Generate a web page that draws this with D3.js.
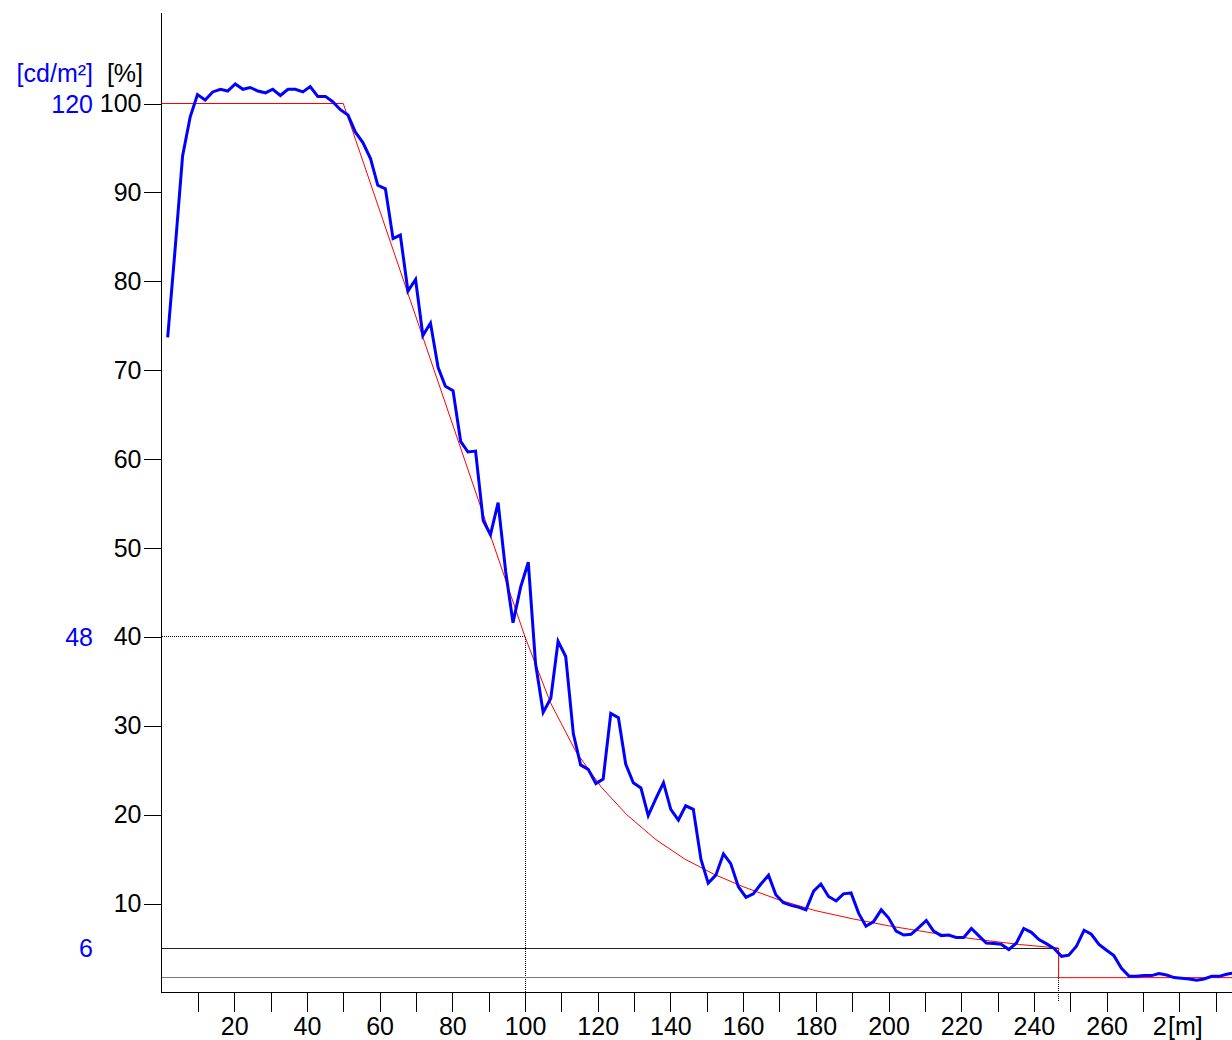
<!DOCTYPE html>
<html>
<head>
<meta charset="utf-8">
<script src="https://cdn.jsdelivr.net/npm/d3@7"></script>
<style>
  html, body { margin: 0; padding: 0; background: #fff; }
  svg { display: block; }
  text { font-family: "Liberation Sans", Arial, sans-serif; }
</style>
</head>
<body>
<svg id="chart" width="1232" height="1040"></svg>
<script>
// ---- data ----
const distance = [1.7,3.8,5.8,7.9,9.9,12.0,14.1,16.2,18.2,20.3,22.4,24.4,26.5,28.6,30.6,32.7,34.8,36.8,38.9,40.9,
  43.0,45.1,47.1,49.2,51.3,53.3,55.4,57.5,59.5,61.6,63.7,65.7,67.8,69.9,71.9,74.0,76.1,78.1,80.2,82.3,
  84.3,86.4,88.5,90.5,92.6,94.7,96.7,98.8,100.9,102.9,105.0,107.1,109.1,111.2,113.3,115.3,117.4,119.5,121.5,123.6,
  125.7,127.7,129.8,131.9,133.9,136.0,138.1,140.1,142.2,144.2,146.3,148.4,150.4,152.5,154.6,156.6,158.7,160.8,162.8,164.9,
  167.0,169.0,171.1,173.2,175.2,177.3,179.4,181.4,183.5,185.6,187.6,189.7,191.8,193.8,195.9,198.0,200.0,202.1,204.2,206.2,
  208.3,210.4,212.4,214.5,216.6,218.6,220.7,222.8,224.8,226.9,229.0,231.0,233.1,235.2,237.2,239.3,241.4,243.4,245.5,247.6,
  249.6,251.7,253.8,255.8,257.9,260.0,262.0,264.1,266.2,268.2,270.3,272.4,274.4,276.5,278.6,280.6,282.7,284.8,286.8,288.9,
  291.0,293.0,295.1];
const measured = [73.7,83.9,94.1,98.5,101.0,100.4,101.3,101.6,101.4,102.2,101.6,101.8,101.4,101.2,101.6,100.9,101.6,101.6,101.3,101.9,
  100.8,100.8,100.2,99.3,98.7,96.8,95.6,93.8,90.8,90.4,84.8,85.2,78.9,80.2,73.9,75.3,70.3,68.2,67.7,62.0,
  60.8,60.9,53.1,51.5,55.1,47.3,41.6,45.6,48.4,37.0,31.5,33.1,39.5,37.8,29.1,25.6,25.1,23.5,24.0,31.4,
  30.9,25.7,23.6,23.0,19.9,21.8,23.6,20.6,19.4,21.0,20.6,15.0,12.3,13.2,15.6,14.5,11.9,10.7,11.1,12.2,
  13.2,11.0,10.1,9.8,9.6,9.3,11.4,12.2,10.8,10.3,11.1,11.2,8.9,7.45,7.97,9.3,8.4,6.9,6.47,6.55,
  7.3,8.1,6.9,6.4,6.47,6.18,6.18,7.2,6.4,5.57,5.5,5.42,4.83,5.57,7.2,6.77,5.95,5.5,4.97,4.07,
  4.2,5.2,7.0,6.55,5.42,4.75,4.15,2.72,1.82,1.82,1.9,1.9,2.13,1.97,1.68,1.6,1.52,1.37,1.52,1.82,
  1.82,2.05,2.2];

// required (reference) curve
const refDistance = [0,50,100,107,114,121,128,136,144,152,160,170,180,190,200,212,224,236,246.8,246.8,300];
const refPercent  = [100,100,40,32.6,27.1,23.1,20.0,17.2,15.0,13.3,11.9,10.4,9.2,8.3,7.5,6.7,6.0,5.4,5.0,1.67,1.67];

// reference marks
const markDistance = [100, 246.8];
const markPercent = [40, 5, 1.67];

const xTicks = d3.range(10, 300, 10);
const xLabels = [20,40,60,80,100,120,140,160,180,200,220,240,260,280];
const yTicks = [10,20,30,40,50,60,70,80,90,100];
const cdLabels = [{pct:100, text:"120"},{pct:40, text:"48"},{pct:5, text:"6"}];
const xUnit = "[m]";

// ---- scales ----
const svg = d3.select("#chart");
const x = d3.scaleLinear().domain([0, 100]).range([161.5, 525]);
const y = d3.scaleLinear().domain([0, 100]).range([992.5, 103.5]);
const yTop = 110.2;
const xRight = 300;

const refG = svg.append("g").attr("shape-rendering", "crispEdges");
// 40% line
refG.append("line").attr("x1", x(0)).attr("x2", x(markDistance[0]))
  .attr("y1", y(markPercent[0])).attr("y2", y(markPercent[0]))
  .attr("stroke", "#000").attr("stroke-width", 1).attr("stroke-dasharray", "1,1");
refG.append("line").attr("x1", x(markDistance[0])).attr("x2", x(markDistance[0]))
  .attr("y1", y(markPercent[0])).attr("y2", y(0) + 19)
  .attr("stroke", "#000").attr("stroke-width", 1).attr("stroke-dasharray", "1,1");
// 5% line
refG.append("line").attr("x1", x(0)).attr("x2", x(markDistance[1]))
  .attr("y1", y(markPercent[1])).attr("y2", y(markPercent[1]))
  .attr("stroke", "#222").attr("stroke-width", 1);
refG.append("line").attr("x1", x(markDistance[1])).attr("x2", x(markDistance[1]))
  .attr("y1", y(markPercent[1])).attr("y2", y(0) + 8)
  .attr("stroke", "#000").attr("stroke-width", 1).attr("stroke-dasharray", "1,1");
// 1.67% line
refG.append("line").attr("x1", x(0)).attr("x2", x(markDistance[1]))
  .attr("y1", y(markPercent[2])).attr("y2", y(markPercent[2]))
  .attr("stroke", "#777").attr("stroke-width", 1);

// red reference curve
const line = d3.line().x(d => x(d[0])).y(d => y(d[1]));
svg.append("path")
  .datum(refDistance.map((d, i) => [d, refPercent[i]]))
  .attr("d", line).attr("fill", "none").attr("stroke", "#ff0000").attr("stroke-width", 1);

// axes
const yAxisG = svg.append("g").attr("transform", `translate(${x(0)},0)`).attr("shape-rendering", "crispEdges");
yAxisG.append("line").attr("x1", 0).attr("x2", 0).attr("y1", y(yTop)).attr("y2", y(0))
  .attr("stroke", "#000").attr("stroke-width", 1);
const yAxis = d3.axisLeft(y).tickValues(yTicks).tickSize(18).tickPadding(2).tickFormat(d3.format("d"));
yAxisG.call(yAxis);
yAxisG.select(".domain").remove();
yAxisG.selectAll(".tick line").attr("stroke", "#000");
yAxisG.selectAll(".tick text").attr("font-size", 25).attr("fill", "#000")
  .attr("font-family", '"Liberation Sans", Arial, sans-serif');

const xAxisG = svg.append("g").attr("transform", `translate(0,${y(0)})`).attr("shape-rendering", "crispEdges");
xAxisG.append("line").attr("x1", x(0)).attr("x2", x(xRight)).attr("y1", 0).attr("y2", 0)
  .attr("stroke", "#000").attr("stroke-width", 1);
const xAxis = d3.axisBottom(x).tickValues(xTicks).tickSize(19).tickPadding(6)
  .tickFormat(d => xLabels.includes(d) ? (d === 280 ? "2" : d) : "");
xAxisG.call(xAxis);
xAxisG.select(".domain").remove();
xAxisG.selectAll(".tick line").attr("stroke", "#000");
xAxisG.selectAll(".tick text").attr("font-size", 25).attr("fill", "#000")
  .attr("font-family", '"Liberation Sans", Arial, sans-serif');
// the last label is covered by the unit label: only its first digit stays visible
xAxisG.selectAll(".tick text").filter(d => d === 280)
  .attr("text-anchor", "start").attr("x", -27);

// unit label on x axis
svg.append("text").attr("x", 1168).attr("y", 1035).attr("font-size", 25).attr("fill", "#000").text(xUnit);

// blue measured line
svg.append("path")
  .datum(distance.map((d, i) => [d, measured[i]]))
  .attr("d", line).attr("fill", "none").attr("stroke", "#0000ff")
  .attr("stroke-width", 3).attr("stroke-linejoin", "miter");

// left labels
svg.append("text").attr("x", 93).attr("y", 82).attr("text-anchor", "end")
  .attr("font-size", 25).attr("fill", "#0000ff").text("[cd/m²]");
svg.append("text").attr("x", 143).attr("y", 82).attr("text-anchor", "end")
  .attr("font-size", 25).attr("fill", "#000").text("[%]");
svg.selectAll("text.cd").data(cdLabels).enter().append("text").attr("class", "cd")
  .attr("x", 93).attr("y", d => y(d.pct) + 9).attr("text-anchor", "end")
  .attr("font-size", 25).attr("fill", "#0000ff").text(d => d.text);
</script>
</body>
</html>
